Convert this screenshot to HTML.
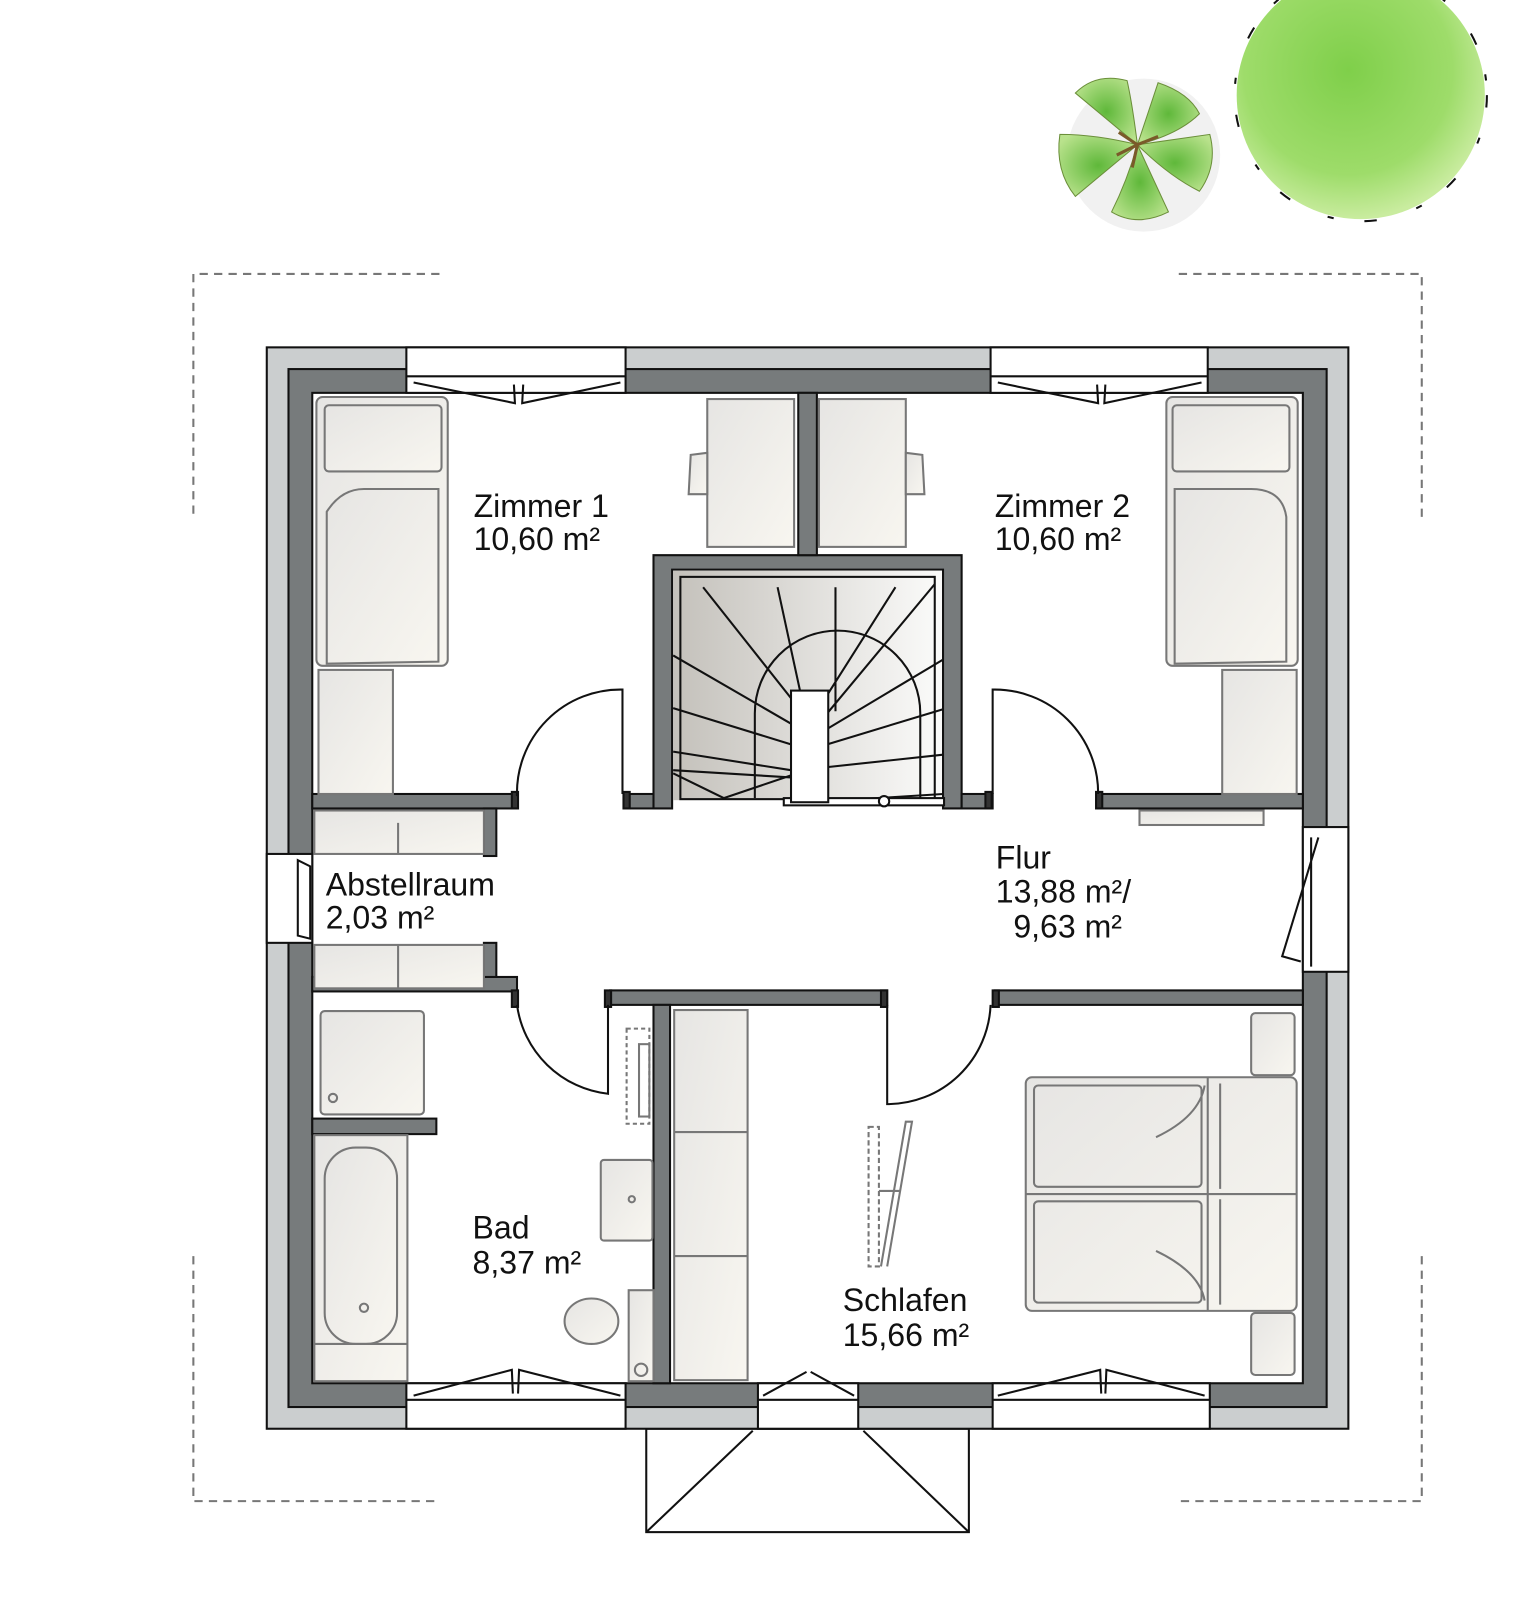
<!DOCTYPE html>
<html><head><meta charset="utf-8"><style>
html,body{margin:0;padding:0;background:#fff;}
svg{display:block;}
text{font-family:"Liberation Sans",Arial,sans-serif;font-size:31px;fill:#111;}
</style></head><body>
<svg width="1520" height="1620" viewBox="0 0 1470 1567" preserveAspectRatio="none" xmlns="http://www.w3.org/2000/svg">
<defs>
<linearGradient id="fur" x1="0" y1="0" x2="1" y2="1"><stop offset="0" stop-color="#e6e5e3"/><stop offset="1" stop-color="#f8f6f0"/></linearGradient>
<linearGradient id="st" x1="0" y1="0" x2="1" y2="0"><stop offset="0" stop-color="#c4c1bb"/><stop offset="1" stop-color="#fbfbfa"/></linearGradient>
<radialGradient id="tr1" cx="0.45" cy="0.4" r="0.6"><stop offset="0" stop-color="#7fcf4a"/><stop offset="0.7" stop-color="#9edc6a"/><stop offset="1" stop-color="#c9ec9f"/></radialGradient>
<radialGradient id="tr2" cx="0.5" cy="0.5" r="0.6"><stop offset="0" stop-color="#5fb83a"/><stop offset="1" stop-color="#b9e28c"/></radialGradient>
</defs>

<!-- trees -->
<circle cx="1106" cy="150" r="74" fill="#e8e8e8" opacity="0.6"/>
<g fill="url(#tr2)" stroke="#6b8f3a" stroke-width="1">
<path d="M1100 140 L1040 90 Q1060 70 1090 78 Q1095 100 1100 140Z"/>
<path d="M1100 140 L1120 80 Q1150 90 1160 110 Q1140 130 1100 140Z"/>
<path d="M1100 140 L1170 130 Q1178 160 1160 185 Q1130 170 1100 140Z"/>
<path d="M1100 140 L1130 205 Q1100 220 1075 205 Q1090 175 1100 140Z"/>
<path d="M1100 140 L1040 190 Q1020 165 1025 130 Q1060 130 1100 140Z"/>
</g>
<path d="M1100 140 l-18 -12 M1100 140 l20 -8 M1100 140 l-5 22 M1100 140 l-20 10" stroke="#7a5a2a" stroke-width="3"/>
<circle cx="1316" cy="92" r="120" fill="url(#tr1)"/>
<circle cx="1316" cy="92" r="122" fill="none" stroke="#111" stroke-width="2" stroke-dasharray="12 30 6 40"/>

<!-- dashed corner marks -->
<g fill="none" stroke="#777" stroke-width="2" stroke-dasharray="8 6">
<path d="M425 265 H187 V500"/>
<path d="M1140 265 H1375 V500"/>
<path d="M187 1215 V1452 H425"/>
<path d="M1375 1215 V1452 H1140"/>
</g>

<!-- porch -->
<g fill="#fff" stroke="#111" stroke-width="2">
<rect x="625" y="1382" width="312" height="100"/>
<path d="M625 1482 L728 1384 M937 1482 L835 1384" fill="none"/>
</g>

<!-- outer walls -->
<rect x="258" y="336" width="1046" height="1046" fill="#cbcecf" stroke="#111" stroke-width="2"/>
<rect x="279" y="357" width="1004" height="1004" fill="#777b7c" stroke="#111" stroke-width="2"/>
<rect x="302" y="380" width="958" height="958" fill="#fff" stroke="#111" stroke-width="2"/>

<!-- window openings -->
<g fill="#fff" stroke="#111" stroke-width="2">
<rect x="393" y="336" width="212" height="44"/>
<rect x="958" y="336" width="210" height="44"/>
<rect x="258" y="826" width="44" height="86"/>
<rect x="1260" y="800" width="44" height="140"/>
<rect x="393" y="1338" width="212" height="44"/>
<rect x="733" y="1338" width="97" height="44"/>
<rect x="960" y="1338" width="210" height="44"/>
</g>
<g fill="none" stroke="#111" stroke-width="2">
<path d="M393 364 H605 M958 364 H1168 M393 1354 H605 M733 1354 H830 M960 1354 H1170"/>
<path d="M400 370 L498 390 L497 372 M600 370 L505 390 L506 372"/>
<path d="M965 370 L1062 390 L1061 372 M1162 370 L1068 390 L1069 372"/>
<path d="M400 1350 L495 1325 L496 1348 M600 1350 L502 1325 L501 1348"/>
<path d="M738 1350 L780 1327 M826 1350 L784 1327"/>
<path d="M965 1350 L1064 1325 L1065 1348 M1165 1350 L1070 1325 L1069 1348"/>
<path d="M288 832 L300 838 L300 908 L288 905 Z"/>
<path d="M1275 810 L1240 925 L1258 930 M1268 810 L1268 935"/>
</g>

<!-- interior walls -->
<g fill="#777b7c" stroke="#111" stroke-width="2">
<rect x="302" y="768" width="198" height="14"/>
<rect x="603" y="768" width="30" height="14"/>
<path d="M632 782 V537 H930 V782 H912 V551 H650 V782 Z"/>
<rect x="930" y="768" width="30" height="14"/>
<rect x="1062" y="768" width="198" height="14"/>
<rect x="772" y="380" width="18" height="157"/>
<rect x="468" y="782" width="12" height="46"/>
<rect x="468" y="912" width="12" height="46"/>
<rect x="302" y="945" width="198" height="14"/>
<rect x="590" y="958" width="268" height="14"/>
<rect x="962" y="958" width="298" height="14"/>
<rect x="632" y="972" width="16" height="366"/>
<rect x="302" y="1082" width="120" height="15"/>
<rect x="495" y="766" width="6" height="16" fill="#333"/>
<rect x="603" y="766" width="6" height="16" fill="#333"/>
<rect x="953" y="766" width="6" height="16" fill="#333"/>
<rect x="1060" y="766" width="6" height="16" fill="#333"/>
<rect x="495" y="958" width="6" height="16" fill="#333"/>
<rect x="585" y="958" width="6" height="16" fill="#333"/>
<rect x="852" y="958" width="6" height="16" fill="#333"/>
<rect x="960" y="958" width="6" height="16" fill="#333"/>
</g>

<!-- doors -->
<g fill="none" stroke="#111" stroke-width="2">
<path d="M500 768 V770 A100 100 0 0 1 602 667 V768"/>
<path d="M1062 768 A100 100 0 0 0 960 667 V768"/>
<path d="M500 972 A100 100 0 0 0 588 1058 V972"/>
<path d="M958 972 A100 100 0 0 1 858 1068 V972"/>
</g>

<!-- stairs -->
<rect x="651" y="552" width="260" height="222" fill="url(#st)"/>
<g fill="none" stroke="#111" stroke-width="2">
<rect x="658" y="558" width="246" height="215"/>
<path d="M680 568 L775 688 M752 568 L778 688 M808 568 L808 688 M866 568 L790 688 M904 565 L800 690"/>
<path d="M651 634 L765 700 M651 685 L765 720 M651 727 L765 745"/>
<path d="M912 638 L800 705 M912 686 L800 720 M912 730 L800 742 M912 768 L800 775"/>
<path d="M651 745 L765 752 M651 748 L700 772 L765 750"/>
<path d="M730 772 V690 A80 80 0 0 1 890 690 V775"/>
<rect x="758" y="772" width="155" height="7" fill="#fff"/>
<circle cx="855" cy="775" r="5" fill="#fff"/>
</g>
<rect x="765" y="668" width="36" height="108" fill="#fff" stroke="#111" stroke-width="2"/>

<!-- furniture -->
<g fill="url(#fur)" stroke="#777" stroke-width="2">
<rect x="306" y="384" width="127" height="260" rx="6"/>
<rect x="314" y="392" width="113" height="64" rx="4"/>
<path d="M316 642 V495 Q330 473 352 473 H424 V640 Z"/>
<rect x="308" y="648" width="72" height="120"/>
<rect x="684" y="386" width="84" height="143"/>
<rect x="792" y="386" width="84" height="143"/>
<path d="M684 438 L668 440 L666 478 L684 478Z"/>
<path d="M876 438 L892 440 L894 478 L876 478Z"/>
<rect x="1128" y="384" width="127" height="260" rx="6"/>
<rect x="1134" y="392" width="113" height="64" rx="4"/>
<path d="M1136 642 V473 H1210 Q1240 473 1244 500 V640 Z"/>
<rect x="1182" y="648" width="72" height="120"/>
<rect x="304" y="784" width="164" height="42"/>
<rect x="304" y="914" width="164" height="42"/>
<rect x="310" y="978" width="100" height="100" rx="4"/>
<rect x="304" y="1098" width="90" height="238"/>
<rect x="314" y="1110" width="70" height="190" rx="30"/>
<rect x="581" y="1122" width="50" height="78" rx="3"/>
<rect x="608" y="1248" width="24" height="88"/>
<ellipse cx="572" cy="1278" rx="26" ry="22"/>
<rect x="652" y="977" width="71" height="358"/>
<rect x="992" y="1042" width="262" height="226" rx="6"/>
<rect x="1210" y="980" width="42" height="60" rx="4"/>
<rect x="1210" y="1270" width="42" height="60" rx="4"/>
<rect x="1102" y="784" width="120" height="14"/>
</g>
<g fill="none" stroke="#777" stroke-width="2">
<path d="M652 1095 H723 M652 1215 H723"/>
<path d="M385 796 V826 M385 914 V956 M304 1300 H394"/>
<path d="M992 1155 H1254 M1168 1042 V1268 M1180 1048 V1150 M1180 1160 V1262"/>
<path d="M1118 1100 Q1160 1080 1165 1050 M1118 1210 Q1160 1230 1165 1258"/>
<rect x="1000" y="1050" width="162" height="98" rx="4"/>
<rect x="1000" y="1162" width="162" height="98" rx="4"/>
<rect x="606" y="995" width="22" height="92" stroke-dasharray="4 3"/>
<rect x="618" y="1010" width="10" height="70"/>
<circle cx="322" cy="1062" r="4"/>
<circle cx="352" cy="1265" r="4"/>
<circle cx="611" cy="1160" r="3"/>
<circle cx="620" cy="1325" r="6"/>
<path d="M840 1090 H850 V1225 H840 Z" stroke-dasharray="5 3"/>
<path d="M858 1225 L882 1085 L876 1085 L852 1225 M850 1152 H870"/>
</g>

<!-- labels -->
<text x="458" y="500">Zimmer 1</text>
<text x="458" y="532">10,60 m²</text>
<text x="962" y="500">Zimmer 2</text>
<text x="962" y="532">10,60 m²</text>
<text x="315" y="866">Abstellraum</text>
<text x="315" y="898">2,03 m²</text>
<text x="963" y="840">Flur</text>
<text x="963" y="873">13,88 m²/</text>
<text x="980" y="907">9,63 m²</text>
<text x="457" y="1198">Bad</text>
<text x="457" y="1232">8,37 m²</text>
<text x="815" y="1268">Schlafen</text>
<text x="815" y="1302">15,66 m²</text>
</svg>
</body></html>
